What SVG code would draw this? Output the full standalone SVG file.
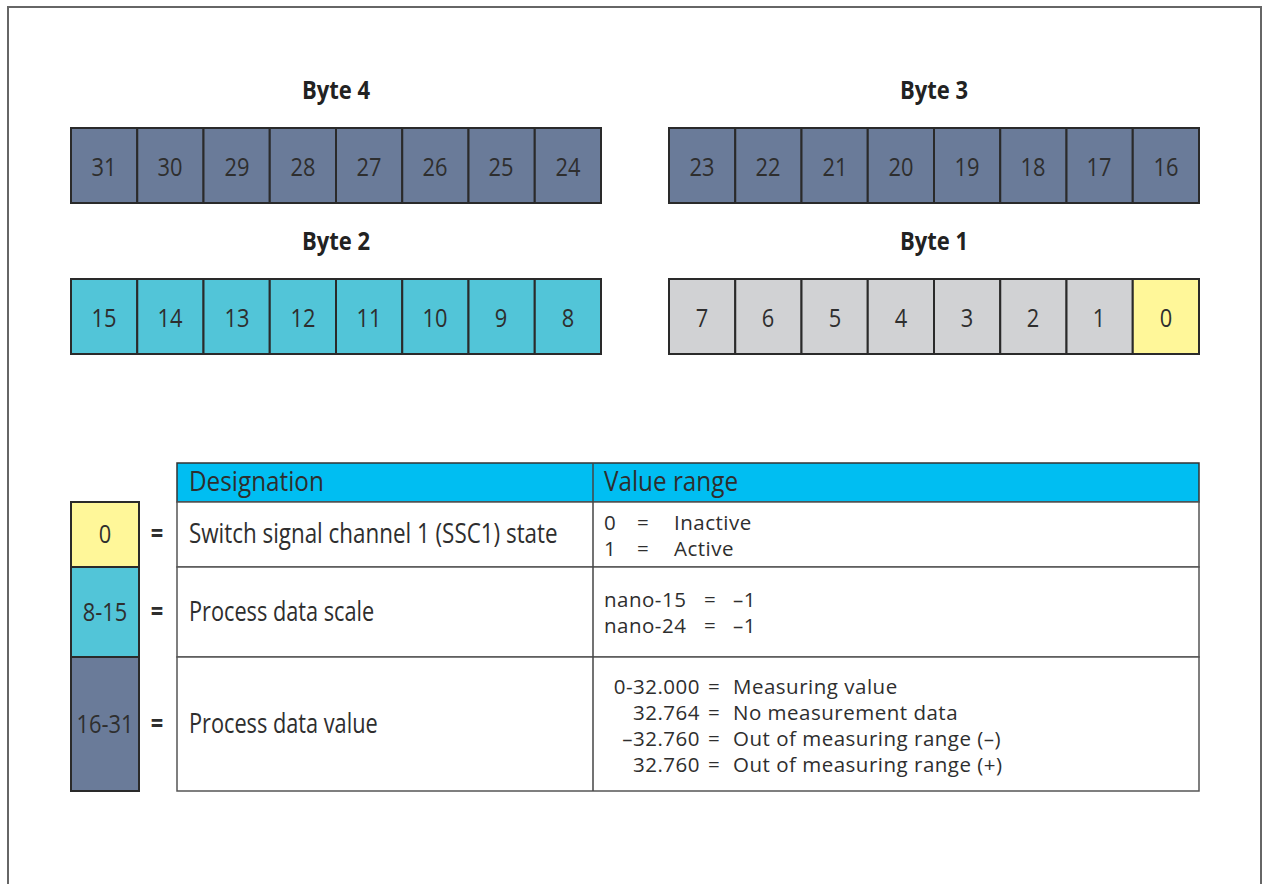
<svg xmlns="http://www.w3.org/2000/svg" width="1267" height="884" viewBox="0 0 1267 884">
<style>
.frame{fill:none;stroke:#666;stroke-width:2}
.cell{stroke:#2a2a2a;stroke-width:2}
.navy{fill:#6a7b99}
.cyan{fill:#52c5d8}
.gray{fill:#d1d2d4}
.yel{fill:#fff799}
text{font-family:"Open Sans","Noto Sans",sans-serif;fill:#2e2e2e;transform-box:fill-box}
.num{font-size:26px;text-anchor:middle;transform:scaleX(0.84);transform-origin:center}
.title{font-size:25px;font-weight:bold;fill:#222;text-anchor:middle;transform:scaleX(0.88);transform-origin:center}
.t{font-size:26.5px;transform:scaleX(0.82);transform-origin:0 50%}
.tv{font-size:20.5px;letter-spacing:0.5px}
.th{font-size:27px;transform:scaleX(0.9);transform-origin:0 50%}
.eq{font-size:26px;font-weight:bold;text-anchor:middle;transform:scaleX(0.84);transform-origin:center}
.tb{fill:#fff;stroke:#555;stroke-width:1.5}
</style>
<rect x="0" y="0" width="1267" height="884" fill="#fff"/>
<path class="frame" d="M8,884 V7 H1261 V884"/>

<g id="byte4">
<text class="title" x="336" y="99">Byte 4</text>
<g class="navy">
<rect class="cell" x="71" y="128" width="66.25" height="75"/><rect class="cell" x="137.25" y="128" width="66.25" height="75"/><rect class="cell" x="203.5" y="128" width="66.25" height="75"/><rect class="cell" x="269.75" y="128" width="66.25" height="75"/><rect class="cell" x="336" y="128" width="66.25" height="75"/><rect class="cell" x="402.25" y="128" width="66.25" height="75"/><rect class="cell" x="468.5" y="128" width="66.25" height="75"/><rect class="cell" x="534.75" y="128" width="66.25" height="75"/>
</g>
<text class="num" x="104" y="176">31</text><text class="num" x="170" y="176">30</text><text class="num" x="237" y="176">29</text><text class="num" x="303" y="176">28</text><text class="num" x="369" y="176">27</text><text class="num" x="435" y="176">26</text><text class="num" x="501" y="176">25</text><text class="num" x="568" y="176">24</text>
</g>

<g id="byte3">
<text class="title" x="934" y="99">Byte 3</text>
<g class="navy">
<rect class="cell" x="669" y="128" width="66.25" height="75"/><rect class="cell" x="735.25" y="128" width="66.25" height="75"/><rect class="cell" x="801.5" y="128" width="66.25" height="75"/><rect class="cell" x="867.75" y="128" width="66.25" height="75"/><rect class="cell" x="934" y="128" width="66.25" height="75"/><rect class="cell" x="1000.25" y="128" width="66.25" height="75"/><rect class="cell" x="1066.5" y="128" width="66.25" height="75"/><rect class="cell" x="1132.75" y="128" width="66.25" height="75"/>
</g>
<text class="num" x="702" y="176">23</text><text class="num" x="768" y="176">22</text><text class="num" x="835" y="176">21</text><text class="num" x="901" y="176">20</text><text class="num" x="967" y="176">19</text><text class="num" x="1033" y="176">18</text><text class="num" x="1099" y="176">17</text><text class="num" x="1166" y="176">16</text>
</g>

<g id="byte2">
<text class="title" x="336" y="250">Byte 2</text>
<g class="cyan">
<rect class="cell" x="71" y="279" width="66.25" height="75"/><rect class="cell" x="137.25" y="279" width="66.25" height="75"/><rect class="cell" x="203.5" y="279" width="66.25" height="75"/><rect class="cell" x="269.75" y="279" width="66.25" height="75"/><rect class="cell" x="336" y="279" width="66.25" height="75"/><rect class="cell" x="402.25" y="279" width="66.25" height="75"/><rect class="cell" x="468.5" y="279" width="66.25" height="75"/><rect class="cell" x="534.75" y="279" width="66.25" height="75"/>
</g>
<text class="num" x="104" y="327">15</text><text class="num" x="170" y="327">14</text><text class="num" x="237" y="327">13</text><text class="num" x="303" y="327">12</text><text class="num" x="369" y="327">11</text><text class="num" x="435" y="327">10</text><text class="num" x="501" y="327">9</text><text class="num" x="568" y="327">8</text>
</g>

<g id="byte1">
<text class="title" x="934" y="250">Byte 1</text>
<g class="gray">
<rect class="cell" x="669" y="279" width="66.25" height="75"/><rect class="cell" x="735.25" y="279" width="66.25" height="75"/><rect class="cell" x="801.5" y="279" width="66.25" height="75"/><rect class="cell" x="867.75" y="279" width="66.25" height="75"/><rect class="cell" x="934" y="279" width="66.25" height="75"/><rect class="cell" x="1000.25" y="279" width="66.25" height="75"/><rect class="cell" x="1066.5" y="279" width="66.25" height="75"/>
</g>
<rect class="cell yel" x="1132.75" y="279" width="66.25" height="75"/>
<text class="num" x="702" y="327">7</text><text class="num" x="768" y="327">6</text><text class="num" x="835" y="327">5</text><text class="num" x="901" y="327">4</text><text class="num" x="967" y="327">3</text><text class="num" x="1033" y="327">2</text><text class="num" x="1099" y="327">1</text><text class="num" x="1166" y="327">0</text>
</g>

<g id="legend">
<rect class="cell yel" x="71" y="502" width="68" height="65"/>
<rect class="cell cyan" x="71" y="567" width="68" height="90"/>
<rect class="cell navy" x="71" y="657" width="68" height="134"/>
<text class="num" x="105" y="543">0</text>
<text class="num" x="105" y="621">8-15</text>
<text class="num" x="105" y="733">16-31</text>
<text class="eq" x="157" y="543">=</text>
<text class="eq" x="157" y="621">=</text>
<text class="eq" x="157" y="733">=</text>
</g>

<g id="table">
<rect x="177" y="463" width="1022" height="39" fill="#00bef2" stroke="#333" stroke-width="1.5"/>
<rect class="tb" x="177" y="502" width="1022" height="65"/>
<rect class="tb" x="177" y="567" width="1022" height="90"/>
<rect class="tb" x="177" y="657" width="1022" height="134"/>
<line x1="593" y1="463" x2="593" y2="791" stroke="#444" stroke-width="1.5"/>
<text class="th" x="189" y="491">Designation</text>
<text class="th" x="604" y="491">Value range</text>
<text class="t" x="189" y="543" style="transform:scaleX(0.845)">Switch signal channel 1 (SSC1) state</text>
<text class="t" x="189" y="621">Process data scale</text>
<text class="t" x="189" y="733">Process data value</text>

<text class="tv"><tspan x="604" y="530">0</tspan><tspan x="637" y="530">=</tspan><tspan x="674" y="530">Inactive</tspan><tspan x="604" y="556">1</tspan><tspan x="637" y="556">=</tspan><tspan x="674" y="556">Active</tspan></text>

<text class="tv"><tspan x="604" y="607">nano-15</tspan><tspan x="704" y="607">=</tspan><tspan x="733" y="607">–1</tspan><tspan x="604" y="633">nano-24</tspan><tspan x="704" y="633">=</tspan><tspan x="733" y="633">–1</tspan></text>

<text class="tv"><tspan x="700" y="694" text-anchor="end">0-32.000</tspan><tspan x="708" y="694">=</tspan><tspan x="733" y="694">Measuring value</tspan><tspan x="700" y="720" text-anchor="end">32.764</tspan><tspan x="708" y="720">=</tspan><tspan x="733" y="720">No measurement data</tspan><tspan x="700" y="746" text-anchor="end">–32.760</tspan><tspan x="708" y="746">=</tspan><tspan x="733" y="746">Out of measuring range (–)</tspan><tspan x="700" y="772" text-anchor="end">32.760</tspan><tspan x="708" y="772">=</tspan><tspan x="733" y="772">Out of measuring range (+)</tspan></text>
</g>
</svg>
